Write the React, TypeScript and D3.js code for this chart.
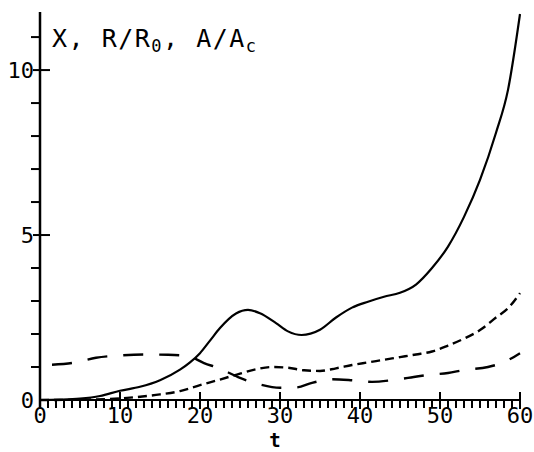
import React from "react";
import * as d3 from "d3";

// X (solid)
const solidT = [0, 2.5, 5, 7.5, 10, 12.5, 15, 17.5, 18.75, 20, 21.25, 22.5, 24.5, 26, 27.5, 29.5, 31, 32.7, 35, 37, 39, 41, 43, 45, 47, 49, 51, 53, 55, 57, 58.5, 60];
const solidV = [0, 0.01, 0.04, 0.12, 0.28, 0.4, 0.6, 0.92, 1.14, 1.42, 1.8, 2.18, 2.62, 2.73, 2.63, 2.33, 2.08, 1.97, 2.13, 2.5, 2.8, 2.98, 3.13, 3.25, 3.5, 4.0, 4.65, 5.55, 6.67, 8.1, 9.4, 11.7];

// R/R0 (long dashes)
const longT = [1.5, 4, 7, 10, 13, 16, 18.5, 20.5, 22.5, 25, 27.5, 30, 32, 34, 36.5, 39, 41.5, 44, 46, 48.5, 51, 53, 56, 58, 60];
const longV = [1.07, 1.12, 1.28, 1.35, 1.38, 1.37, 1.33, 1.12, 0.95, 0.67, 0.47, 0.37, 0.38, 0.52, 0.63, 0.6, 0.55, 0.6, 0.67, 0.76, 0.82, 0.91, 1.0, 1.15, 1.42];

// A/Ac (short dashes)
const shortT = [0, 5, 10, 15, 17.5, 20, 22.5, 25, 27, 29, 31, 33, 35, 37, 39, 41, 43, 45, 47, 49, 51, 53, 55, 57, 58.5, 60];
const shortV = [0, 0.01, 0.05, 0.17, 0.27, 0.45, 0.62, 0.8, 0.93, 1.0, 0.98, 0.9, 0.88, 0.96, 1.06, 1.14, 1.22, 1.3, 1.38, 1.47, 1.65, 1.86, 2.12, 2.5, 2.78, 3.24];

const xMajor = [0, 10, 20, 30, 40, 50, 60];
const yMajor = [5, 10];

const font = "'DejaVu Sans Mono', monospace";

export default function App() {
  const x = d3.scaleLinear().domain([0, 60]).range([40, 520]);
  const y = d3.scaleLinear().domain([0, 11.76]).range([400, 12]);

  const line = d3
    .line<[number, number]>()
    .x((d) => x(d[0]))
    .y((d) => y(d[1]))
    .curve(d3.curveMonotoneX);

  const zip = (ts: number[], vs: number[]) => ts.map((t, i) => [t, vs[i]] as [number, number]);

  const xMinor = d3.range(1, 60).filter((t) => t % 10 !== 0);
  const yMinor = d3.range(1, 12).filter((v) => v % 5 !== 0);

  return (
    <svg
      width={534}
      height={452}
      style={{ position: "absolute", left: 0, top: 0, background: "#fff" }}
    >
      {/* curves */}
      <path d={line(zip(solidT, solidV)) || ""} fill="none" stroke="#000" strokeWidth={2.2} />
      <path d={line(zip(longT, longV)) || ""} fill="none" stroke="#000" strokeWidth={2.4} strokeDasharray="20,16" />
      <path d={line(zip(shortT, shortV)) || ""} fill="none" stroke="#000" strokeWidth={2.4} strokeDasharray="9,5" />

      {/* axes */}
      <line x1={x(0)} x2={x(0)} y1={y(11.76)} y2={408} stroke="#000" strokeWidth={2.5} />
      <line x1={x(0)} x2={x(60)} y1={y(0)} y2={y(0)} stroke="#000" strokeWidth={2} />

      {xMinor.map((t) => (
        <line key={"xm" + t} x1={x(t)} x2={x(t)} y1={y(0)} y2={y(0) + 8} stroke="#000" strokeWidth={2} />
      ))}
      {xMajor.map((t) => (
        <line key={"xM" + t} x1={x(t)} x2={x(t)} y1={y(0) - 8} y2={y(0) + 9} stroke="#000" strokeWidth={2} />
      ))}
      {yMinor.map((v) => (
        <line key={"ym" + v} x1={x(0) - 9} x2={x(0)} y1={y(v)} y2={y(v)} stroke="#000" strokeWidth={2} />
      ))}
      {yMajor.map((v) => (
        <line key={"yM" + v} x1={x(0) - 7} x2={x(0) + 10} y1={y(v)} y2={y(v)} stroke="#000" strokeWidth={2} />
      ))}

      {/* tick labels */}
      {xMajor.map((t) => (
        <text key={"xl" + t} x={x(t)} y={423} textAnchor="middle" fontFamily={font} fontSize={22}>
          {t}
        </text>
      ))}
      {[0, ...yMajor].map((v) => (
        <text key={"yl" + v} x={34} y={y(v) + 8} textAnchor="end" fontFamily={font} fontSize={22}>
          {v}
        </text>
      ))}

      <text x={275} y={447} textAnchor="middle" fontFamily={font} fontSize={19} fontWeight="bold">
        t
      </text>

      <text x={52} y={47} fontFamily={font} fontSize={25} letterSpacing={1.5}>
        X, R/R
        <tspan fontSize={17} dy={5}>0</tspan>
        <tspan dy={-5}>, A/A</tspan>
        <tspan fontSize={17} dy={5}>c</tspan>
      </text>
    </svg>
  );
}
